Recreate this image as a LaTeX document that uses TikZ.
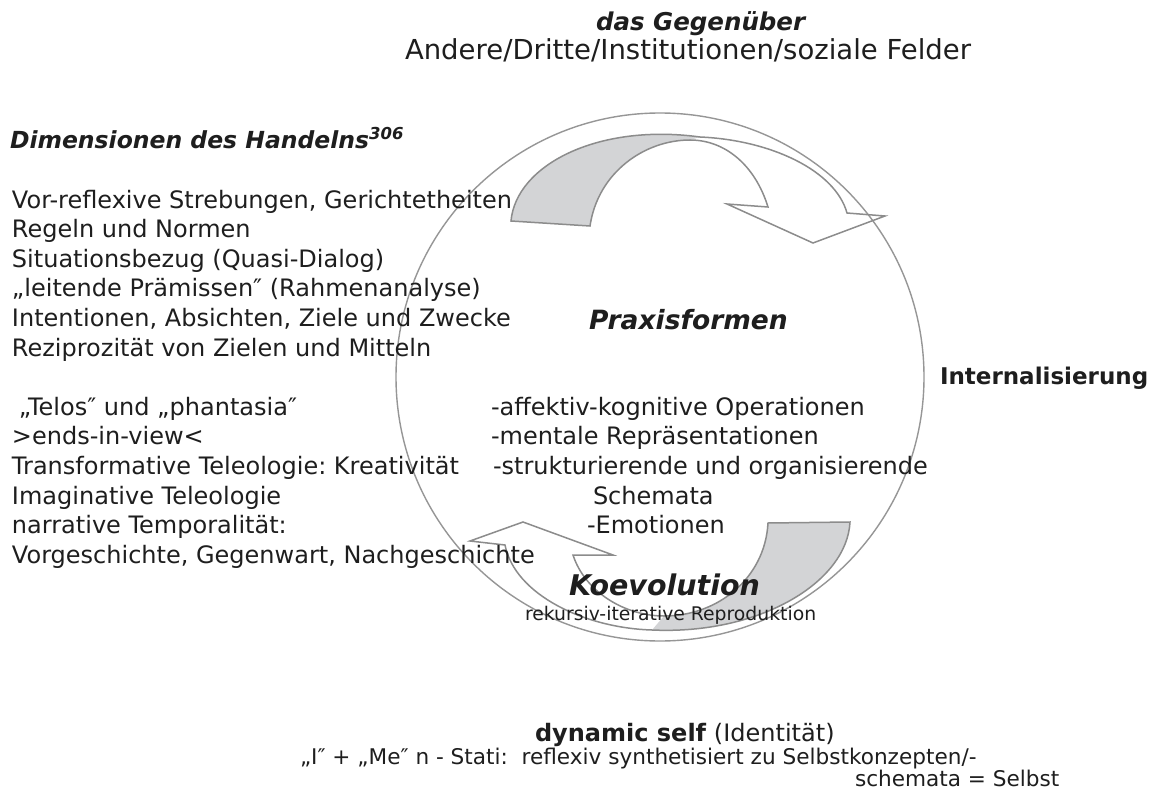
\documentclass[tikz,border=0pt]{standalone}
\usepackage{fontspec}
\setmainfont{DejaVu Sans}
\frenchspacing
\definecolor{linegray}{RGB}{150,150,150}
\definecolor{arrowgray}{RGB}{140,140,140}
\definecolor{fillgray}{RGB}{211,212,214}
\definecolor{txt}{RGB}{30,30,30}
\tikzset{
  txtnode/.style={anchor=base west, inner sep=0pt, outer sep=0pt, text=txt},
  body/.style={txtnode, font=\fontsize{24}{29.6}\selectfont},
  bigbi/.style={txtnode, font=\fontsize{26.5}{30}\selectfont\bfseries\itshape},
  arrowline/.style={draw=arrowgray, line width=1.5pt, line join=miter},
  circleline/.style={draw=linegray, line width=1.4pt}
}
\begin{document}
\begin{tikzpicture}[x=1pt,y=-1pt]
\fill[white] (0,0) rectangle (1162,789);
\useasboundingbox (0,0) rectangle (1162,789);

% circle
\node[circle, circleline, inner sep=0pt, minimum size=528pt] (cyc) at (660,377) {};

% top curved arrow
\coordinate (ta1) at (511,221);
\coordinate (ta2) at (590,226);
\coordinate (tkO) at (700,137);
\coordinate (tkI) at (690,140);
\coordinate (th1) at (768,207);
\coordinate (th2) at (727,204);
\coordinate (th3) at (813,243);
\coordinate (th4) at (885,216);
\coordinate (th5) at (847,213);
\fill[fillgray] (ta1) .. controls (516,165) and (598,123) .. (tkO) -- (tkI) .. controls (645,140) and (598,172) .. (ta2) -- cycle;
\draw[arrowline] (ta1) .. controls (516,165) and (598,123) .. (tkO) .. controls (770,140) and (835,170) .. (th5) -- (th4) -- (th3) -- (th2) -- (th1) .. controls (755,165) and (725,140) .. (tkI) .. controls (645,140) and (598,172) .. (ta2) -- cycle;

% bottom curved arrow
\coordinate (ba1) at (850,522);
\coordinate (ba2) at (768,523);
\coordinate (bkO) at (652,630);
\coordinate (bkI) at (664,616);
\coordinate (bh1) at (573,555);
\coordinate (bh2) at (613,555);
\coordinate (bh3) at (523,522);
\coordinate (bh4) at (470,541);
\coordinate (bh5) at (505,545);
\fill[fillgray] (ba1) .. controls (847,582) and (760,635) .. (bkO) -- (bkI) .. controls (718,616) and (765,578) .. (ba2) -- cycle;
\draw[arrowline] (ba1) .. controls (847,582) and (760,635) .. (bkO) .. controls (585,628) and (515,595) .. (bh5) -- (bh4) -- (bh3) -- (bh2) -- (bh1) .. controls (585,592) and (625,616) .. (bkI) .. controls (718,616) and (765,578) .. (ba2) -- cycle;

% top texts
\node[txtnode, font=\fontsize{24.5}{30}\selectfont\bfseries\itshape] (geg) at (596,31) {das Gegenüber};
\node[txtnode, font=\fontsize{27.5}{32}\selectfont] (andere) at (405,60) {Andere/Dritte/Institutionen/soziale Felder};

% left heading
\node[txtnode, font=\fontsize{23.5}{28}\selectfont\bfseries\itshape] (dim) at (10,149) {Dimensionen des Handelns\textsuperscript{306}};

% left column
\node[body] (l1) at (12,208) {Vor-reflexive Strebungen, Gerichtetheiten};
\node[body] (l2) at (12,237.6) {Regeln und Normen};
\node[body] (l3) at (12,267.2) {Situationsbezug (Quasi-Dialog)};
\node[body] (l4) at (12,296.8) {„leitende Prämissen″ (Rahmenanalyse)};
\node[body] (l5) at (12,326.4) {Intentionen, Absichten, Ziele und Zwecke};
\node[body] (l6) at (12,356) {Reziprozität von Zielen und Mitteln};
\node[body] (l7) at (19,415.2) {„Telos″ und „phantasia″};
\node[body] (l8) at (12,444.8) {>ends-in-view<};
\node[body] (l9) at (12,474.4) {Transformative Teleologie: Kreativität};
\node[body] (l10) at (12,504) {Imaginative Teleologie};
\node[body] (l11) at (12,533.6) {narrative Temporalität:};
\node[body] (l12) at (12,563.2) {Vorgeschichte, Gegenwart, Nachgeschichte};

% right column
\node[body] (r1) at (491,415.2) {-affektiv-kognitive Operationen};
\node[body] (r2) at (491,444.8) {-mentale Repräsentationen};
\node[body] (r3) at (493,474.4) {-strukturierende und organisierende};
\node[body] (r4) at (593,504) {Schemata};
\node[body] (r5) at (587,533.6) {-Emotionen};

% centre labels
\node[bigbi] (praxis) at (589,329) {Praxisformen};
\node[txtnode, font=\fontsize{28.5}{32}\selectfont\bfseries\itshape] (koev) at (569,595) {Koevolution};
\node[txtnode, font=\fontsize{18.8}{22}\selectfont] (rek) at (525,620) {rekursiv-iterative Reproduktion};

% right label
\node[txtnode, font=\fontsize{23}{26}\selectfont\bfseries] (intern) at (940,384) {Internalisierung};

% bottom texts
\node[txtnode, font=\fontsize{24}{28}\selectfont] (dyn) at (535,741) {\textbf{dynamic self} (Identität)};
\node[txtnode, font=\fontsize{21.6}{26}\selectfont] (ime) at (300,764) {„I″ + „Me″ n - Stati:\ \ reflexiv synthetisiert zu Selbstkonzepten/-};
\node[txtnode, font=\fontsize{21.6}{26}\selectfont] (sch) at (855,786) {schemata = Selbst};
\end{tikzpicture}
\end{document}
